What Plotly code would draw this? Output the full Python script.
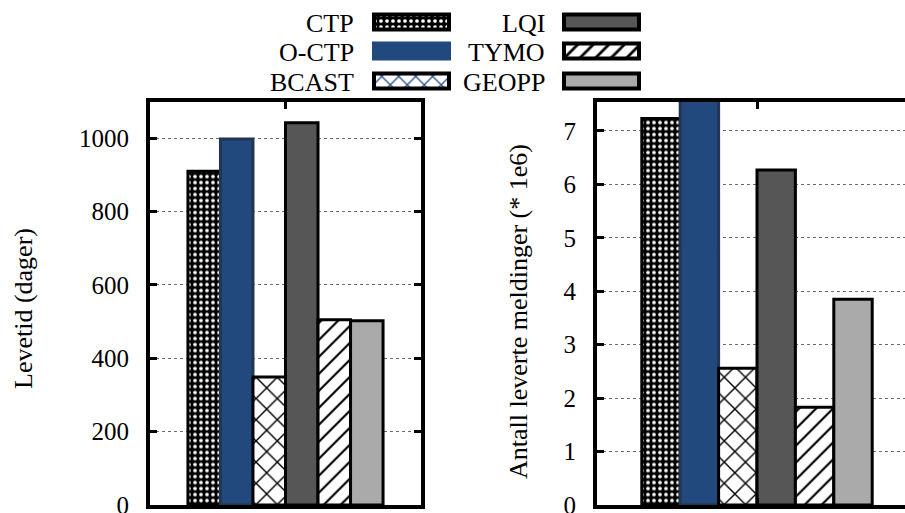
import plotly.graph_objects as go

# ---------------- data ----------------
series = ["CTP", "O-CTP", "BCAST", "LQI", "TYMO", "GEOPP"]
lifetime_days = [910, 998, 349, 1042, 505, 502]
delivered_msgs_1e6 = [7.23, 7.6, 2.56, 6.27, 1.83, 3.85]
lifetime_ticks = [0, 200, 400, 600, 800, 1000]
delivered_ticks = [0, 1, 2, 3, 4, 5, 6, 7]
left_title = "Levetid (dager)"
right_title = "Antall leverte meldinger (* 1e6)"

# ---------------- styles ----------------
W, H = 905, 513
FONT = "'Liberation Serif', 'Times New Roman', Times, serif"
styles = {
    "CTP":   dict(color="black", line="black", pattern=dict(shape=".", fgcolor="white", bgcolor="black", size=6, solidity=0.3, fgopacity=1)),
    "O-CTP": dict(color="#21497d", line="#243552", pattern=None),
    "BCAST": dict(color="white", line="black", pattern=dict(shape="x", fgcolor="black", bgcolor="white", size=15, solidity=0.18, fgopacity=1)),
    "LQI":   dict(color="#565656", line="black", pattern=None),
    "TYMO":  dict(color="white", line="black", pattern=dict(shape="/", fgcolor="black", bgcolor="white", size=12, solidity=0.18, fgopacity=1)),
    "GEOPP": dict(color="#aaaaaa", line="black", pattern=None),
}
legend_patterns = {
    "CTP": dict(shape=".", fgcolor="white", bgcolor="black", size=6, solidity=0.3, fgopacity=1),
    "BCAST": dict(shape="x", fgcolor="#2f5597", bgcolor="white", size=12, solidity=0.22, fgopacity=1),
    "TYMO": dict(shape="/", fgcolor="black", bgcolor="white", size=11, solidity=0.25, fgopacity=1),
}


def fx(p):
    return p / W


def fy(p):
    return 1 - p / H


fig = go.Figure()

for name, v1, v2 in zip(series, lifetime_days, delivered_msgs_1e6):
    st = styles[name]
    marker = dict(color=st["color"], line=dict(color=st["line"], width=3))
    if st["pattern"]:
        marker["pattern"] = st["pattern"]
    fig.add_trace(go.Bar(x=[0], y=[v1], name=name, marker=marker, xaxis="x", yaxis="y",
                         showlegend=False, hoverinfo="skip"))
    fig.add_trace(go.Bar(x=[0], y=[v2], name=name, marker=marker, xaxis="x2", yaxis="y2",
                         showlegend=False, hoverinfo="skip"))

# ---------------- custom legend (label left of swatch) ----------------
LEG_H = 96
legend_cols = [["CTP", "O-CTP", "BCAST"], ["LQI", "TYMO", "GEOPP"]]
col_text_right = [356, 547]
col_swatch = [(374, 449), (564, 639)]
row_center = [22, 51, 81]
annotations = []
for ci, col in enumerate(legend_cols):
    for ri, name in enumerate(col):
        st = styles[name]
        x0, x1 = col_swatch[ci]
        marker = dict(color=st["color"],
                      line=dict(color="black" if name != "O-CTP" else "#21497d", width=4))
        if name in legend_patterns:
            marker["pattern"] = legend_patterns[name]
        fig.add_trace(go.Bar(y=[row_center[ri]], x=[x1 - x0], base=[x0], orientation="h",
                             width=[15], offset=-7.5, offsetgroup="legend", marker=marker,
                             xaxis="x3", yaxis="y3", showlegend=False, hoverinfo="skip"))
        annotations.append(dict(x=col_text_right[ci], y=row_center[ri] + 1, xref="x3", yref="y3",
                                text=name, showarrow=False, xanchor="right", yanchor="middle",
                                font=dict(family=FONT, size=26, color="black")))

annotations.append(dict(x=fx(23), y=fy(309), xref="paper", yref="paper", text=left_title,
                        textangle=-90, showarrow=False, xanchor="center", yanchor="middle",
                        font=dict(family=FONT, size=26, color="black")))
annotations.append(dict(x=fx(518), y=fy(312), xref="paper", yref="paper", text=right_title,
                        textangle=-90, showarrow=False, xanchor="center", yanchor="middle",
                        font=dict(family=FONT, size=26, color="black")))

top, bottom = 101.5, 505
common_x = dict(tickvals=[0], ticks="inside", ticklen=7, tickwidth=3, tickcolor="black",
                showticklabels=False, showline=True, linecolor="black", linewidth=4,
                mirror="ticks", showgrid=False, zeroline=False, fixedrange=True,
                automargin=False)
common_y = dict(ticks="inside", ticklen=7, tickwidth=3, tickcolor="black",
                showline=True, linecolor="black", linewidth=4,
                showgrid=True, gridcolor="#6a6a6a", griddash="dot", gridwidth=1,
                zeroline=False, ticklabelstandoff=12, ticklabeloverflow="allow",
                fixedrange=True, automargin=False,
                tickfont=dict(family=FONT, size=25, color="black"))

fig.update_layout(
    width=W, height=H,
    margin=dict(l=0, r=0, t=0, b=0, pad=0, autoexpand=False),
    paper_bgcolor="white", plot_bgcolor="rgba(0,0,0,0)",
    barmode="group", bargap=0.28, bargroupgap=0,
    showlegend=False,
    font=dict(family=FONT, color="black"),
    xaxis=dict(domain=[fx(150), fx(421)], range=[-0.5, 0.5], anchor="y", **common_x),
    yaxis=dict(domain=[fy(bottom), fy(top)], range=[0, 1100], tickvals=lifetime_ticks,
               anchor="x", mirror="ticks", **common_y),
    xaxis2=dict(domain=[fx(597), 1.0], range=[-0.5, 0.4625], anchor="y2", **common_x),
    yaxis2=dict(domain=[fy(bottom), fy(top)], range=[0, 7.55], tickvals=delivered_ticks,
                anchor="x2", mirror=False, **common_y),
    xaxis3=dict(domain=[0, 1], range=[0, W], visible=False, fixedrange=True, anchor="y3"),
    yaxis3=dict(domain=[fy(LEG_H), 1], range=[LEG_H, 0], visible=False, fixedrange=True,
                anchor="x3"),
    annotations=annotations,
)

fig.write_html("out.html", config=dict(displayModeBar=False),
               post_script="document.body.style.margin='0';document.body.style.overflow='hidden';")
